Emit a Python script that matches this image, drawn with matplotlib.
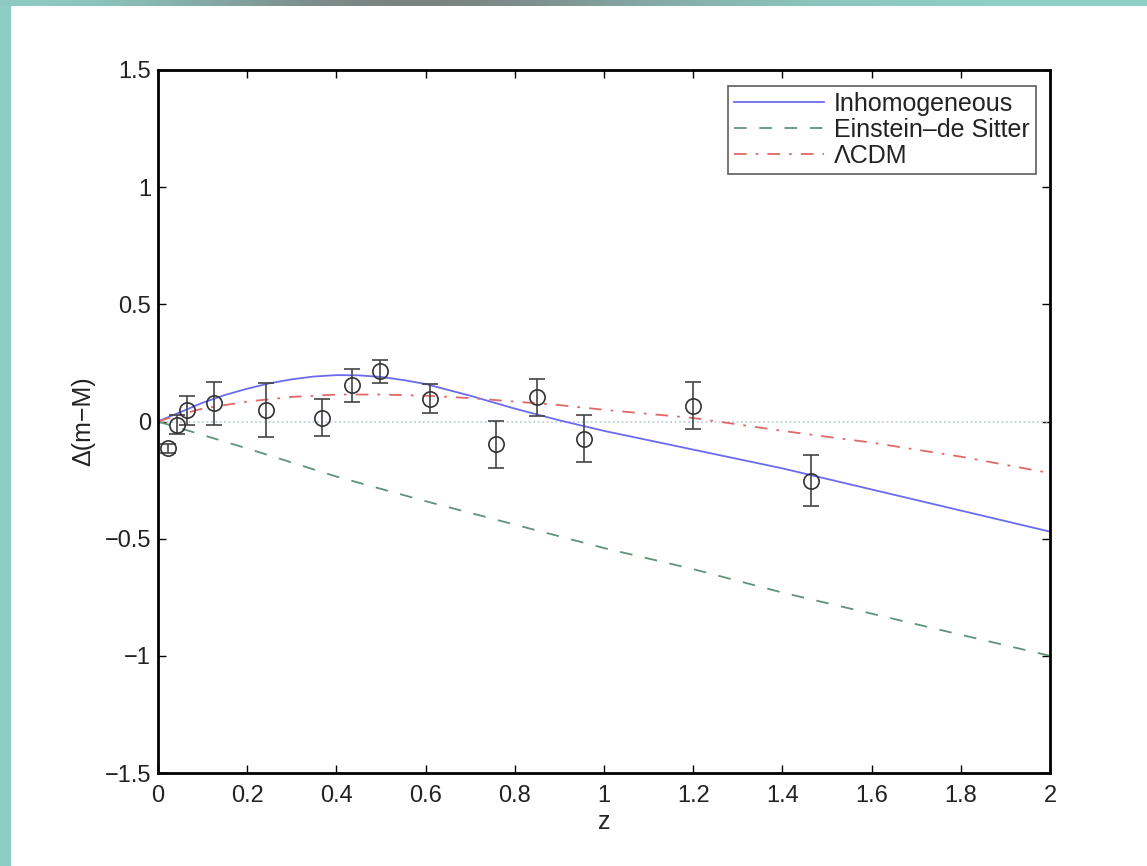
import numpy as np
import matplotlib
matplotlib.use("Agg")
import matplotlib.pyplot as plt
from matplotlib.patches import Rectangle

plt.rcParams["font.family"] = ["Liberation Sans", "DejaVu Sans"]

# supernova binned data
z_obs = [0.022, 0.043, 0.065, 0.125, 0.242, 0.368, 0.435, 0.498, 0.61, 0.758, 0.85, 0.955, 1.2, 1.464]
dm_obs = [-0.115, -0.013, 0.047, 0.077, 0.05, 0.017, 0.154, 0.214, 0.098, -0.098, 0.103, -0.073, 0.068, -0.252]
dm_err = [0.02, 0.04, 0.06, 0.09, 0.115, 0.08, 0.07, 0.05, 0.06, 0.1, 0.08, 0.1, 0.1, 0.11]

# model curves
z_inh = [0, 0.05, 0.1, 0.15, 0.2, 0.25, 0.3, 0.35, 0.4, 0.45, 0.5, 0.55, 0.6, 0.7, 0.8, 0.9,
         1.0, 1.2, 1.4, 1.6, 1.8, 2.0]
dm_inh = [0, 0.04, 0.08, 0.113, 0.14, 0.163, 0.18, 0.192, 0.198, 0.197, 0.19, 0.177, 0.16, 0.11,
          0.055, 0.005, -0.04, -0.12, -0.2, -0.29, -0.38, -0.47]

z_eds = [0, 0.2, 0.4, 0.6, 0.8, 1.0, 1.2, 1.4, 1.6, 1.8, 2.0]
dm_eds = [0, -0.115, -0.235, -0.34, -0.44, -0.54, -0.63, -0.73, -0.82, -0.91, -1.0]

z_lcdm = [0, 0.05, 0.1, 0.2, 0.3, 0.4, 0.5, 0.6, 0.7, 0.8, 0.9, 1.0, 1.2, 1.4, 1.6, 1.8, 2.0]
dm_lcdm = [0, 0.03, 0.055, 0.085, 0.105, 0.115, 0.115, 0.11, 0.1, 0.085, 0.07, 0.05, 0.015, -0.04, -0.09, -0.15, -0.22]

xticks = [0, 0.2, 0.4, 0.6, 0.8, 1, 1.2, 1.4, 1.6, 1.8, 2]
xtick_labels = ["0", "0.2", "0.4", "0.6", "0.8", "1", "1.2", "1.4", "1.6", "1.8", "2"]
yticks = [-1.5, -1, -0.5, 0, 0.5, 1, 1.5]
ytick_labels = ["\u22121.5", "\u22121", "\u22120.5", "0", "0.5", "1", "1.5"]

fig = plt.figure(figsize=(11.47, 8.66), dpi=100)

# teal slide frame: left bar and top strip with a grey gradient
fig.add_artist(Rectangle((0, 0), 10 / 1147, 1, transform=fig.transFigure,
                         color="#8ecdc4", zorder=0))
strip = fig.add_axes([0, 1 - 6 / 866, 1, 6 / 866])
grad = np.array([[0.0, 0.55, 1.0, 0.6, 0.2, 0.0, 0.0]])
strip.imshow(grad, aspect="auto", cmap=matplotlib.colors.LinearSegmentedColormap.from_list(
    "frame", ["#8ecdc4", "#777777"]), interpolation="bicubic")
strip.axis("off")

ax = fig.add_axes([158 / 1147, 1 - 773 / 866, (1050 - 158) / 1147, (773 - 70) / 866])

ax.plot([0, 2], [0, 0], ":", color="#b8c8d8", lw=1.2)
ax.plot(z_inh, dm_inh, "-", color="#6b6bf0", lw=1.3, label="Inhomogeneous")
ax.plot(z_eds, dm_eds, "--", color="#5f9478", lw=1.3, dashes=(7, 7), label="Einstein\u2013de Sitter")
ax.plot(z_lcdm, dm_lcdm, "-.", color="#e06868", lw=1.3, dashes=(7, 5, 1.5, 5), label="\u039bCDM")
ax.errorbar(z_obs, dm_obs, yerr=dm_err, fmt="o", mfc="none", mec="#333333", ms=11,
            mew=1.2, ecolor="#444444", elinewidth=1.2, capsize=6, capthick=1.2)

ax.set_xlim(0, 2)
ax.set_ylim(-1.5, 1.5)
ax.set_xticks(xticks)
ax.set_xticklabels(xtick_labels)
ax.set_yticks(yticks)
ax.set_yticklabels(ytick_labels)
ax.tick_params(direction="in", top=True, right=True, length=6, width=1, labelsize=17,
               labelcolor="#222222")
ax.tick_params(axis="x", pad=9)
ax.tick_params(axis="y", pad=5)
for s in ax.spines.values():
    s.set_linewidth(2)
ax.set_xlabel("z", fontsize=18, labelpad=2, color="#222222")
ax.set_ylabel("\u0394(m\u2212M)", fontsize=18, labelpad=7, color="#222222")

leg = ax.legend(loc="upper right", fontsize=18, frameon=True, fancybox=False,
                edgecolor="#333333", handlelength=3.6, handletextpad=0.4,
                borderpad=0.25, borderaxespad=0.2, labelspacing=0.08,
                bbox_to_anchor=(0.99, 0.985))
leg.get_frame().set_linewidth(1.2)
for t in leg.get_texts():
    t.set_color("#222222")

fig.savefig("out.png", dpi=100)
